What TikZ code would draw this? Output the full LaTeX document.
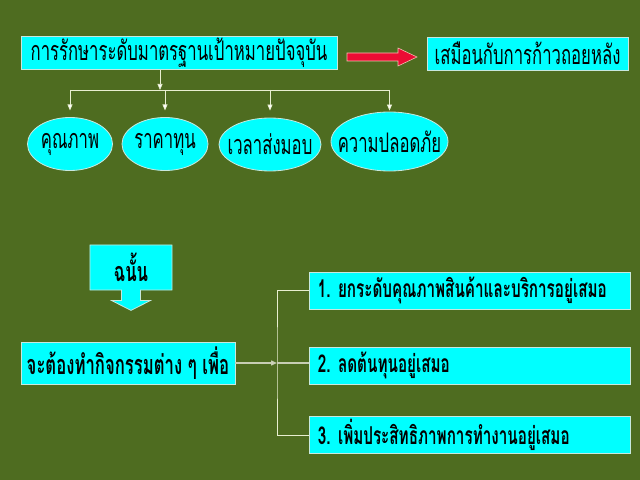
\documentclass[tikz,border=0pt]{standalone}
\usepackage{fontspec}
\newfontfamily\thaifont[Script=Thai,FakeStretch=0.62]{Loma}
\usetikzlibrary{shapes.geometric,shapes.arrows,arrows.meta}

\definecolor{slidegreen}{RGB}{78,108,32}
\definecolor{boxcyan}{RGB}{0,255,255}
\definecolor{rimgray}{RGB}{200,232,222}
\definecolor{wirelight}{RGB}{232,238,208}
\definecolor{midgray}{RGB}{200,206,180}
\definecolor{pushred}{RGB}{236,12,52}
\definecolor{pushrim}{RGB}{240,196,176}

\tikzset{
  plainfont/.style={font={\thaifont\fontsize{23}{24}\selectfont}},
  boldfont/.style={font={\thaifont\bfseries\fontsize{23}{24}\selectfont}},
  topbox/.style={rectangle, draw=rimgray, fill=boxcyan, line width=0.7pt, inner sep=0pt, plainfont},
  oval/.style={ellipse, draw=rimgray, fill=boxcyan, line width=0.7pt, inner xsep=-0.4cm, inner ysep=-0.2cm, plainfont},
  actbox/.style={rectangle, draw=rimgray, fill=boxcyan, line width=0.7pt, inner sep=0pt, boldfont},
  itembox/.style={rectangle, draw=rimgray, fill=boxcyan, line width=0.7pt, inner xsep=0.27cm, inner ysep=0pt,
    text width=9.09cm, align=left, minimum height=1.11cm,
    font={\thaifont\bfseries\fontsize{21}{22}\selectfont}},
  wire/.style={draw=wirelight, line width=0.6pt},
  midwire/.style={draw=midgray, line width=1.2pt},
  headed/.style={-{Triangle[width=0.15cm,length=0.18cm,fill=white]}}
}

\begin{document}
\begin{tikzpicture}[x=0.03cm, y=-0.03cm]
  \fill[slidegreen] (0,0) rectangle (640,480);
  \useasboundingbox (0,0) rectangle (640,480);

  % top row
  \node[topbox, minimum width=9.48cm, minimum height=0.99cm] (goal) at (179,53) {การรักษาระดับมาตรฐานเป้าหมายปัจจุบัน};
  \node[topbox, minimum width=6.03cm, minimum height=0.99cm] (back) at (527.5,53.5) {เสมือนกับการก้าวถอยหลัง};
  \filldraw[fill=pushred, draw=pushrim, line width=0.5pt]
    (347,53) -- (398,53) -- (398,48) -- (417,57) -- (398,66) -- (398,61) -- (347,61) -- cycle;

  \node[oval, minimum width=2.55cm, minimum height=1.59cm] (quality) at (70,144) {คุณภาพ};
  \node[oval, minimum width=2.58cm, minimum height=1.59cm] (cost) at (165,144) {ราคาทุน};
  \node[oval, minimum width=3.06cm, minimum height=1.59cm] (delivery) at (270,144.5) {เวลาส่งมอบ};
  \node[oval, minimum width=3.51cm, minimum height=1.77cm] (safety) at (389.5,141.5) {ความปลอดภัย};

  \coordinate (bus) at (160,90);
  \draw[wire, headed] (goal.south -| bus) -- (bus);
  \draw[wire] (quality.north |- bus) -- (safety.north |- bus);
  \foreach \e/\gap in {quality/0.2cm, cost/0.2cm, delivery/0.21cm, safety/0.03cm}
    \draw[wire, headed, shorten >=\gap] (\e.north |- bus) -- (\e.north);

  % lower part
  \node[rectangle, draw=rimgray, fill=boxcyan, line width=0.7pt, inner sep=0pt, boldfont,
    shape=arrow box, minimum width=2.46cm, minimum height=1.35cm,
    arrow box arrows={south:0.6cm}, arrow box shaft width=0.57cm,
    arrow box head extend=0.3cm, arrow box tip angle=126] (sothen) at (131,267.5) {ฉนั้น};

  \node[actbox, minimum width=6.42cm, minimum height=1.26cm] (act) at (128,363) {จะต้องทำกิจกรรมต่าง ๆ เพื่อ};
  \node[itembox] (aim1) at (469.5,290.5) {1.\hspace{0.22cm}ยกระดับคุณภาพสินค้าและบริการอยู่เสมอ};
  \node[itembox] (aim2) at (469.5,365.5) {2.\hspace{0.22cm}ลดต้นทุนอยู่เสมอ};
  \node[itembox] (aim3) at (469.5,435) {3.\hspace{0.22cm}เพิ่มประสิทธิภาพการทำงานอยู่เสมอ};

  \coordinate (fork) at (277,363);
  \draw[wire] (aim1.west) -| (fork) |- (aim3.west);
  \draw[midwire] (fork) -- (fork -| aim2.west);
  \draw[midwire, headed] (act) -- (fork);
\end{tikzpicture}
\end{document}
